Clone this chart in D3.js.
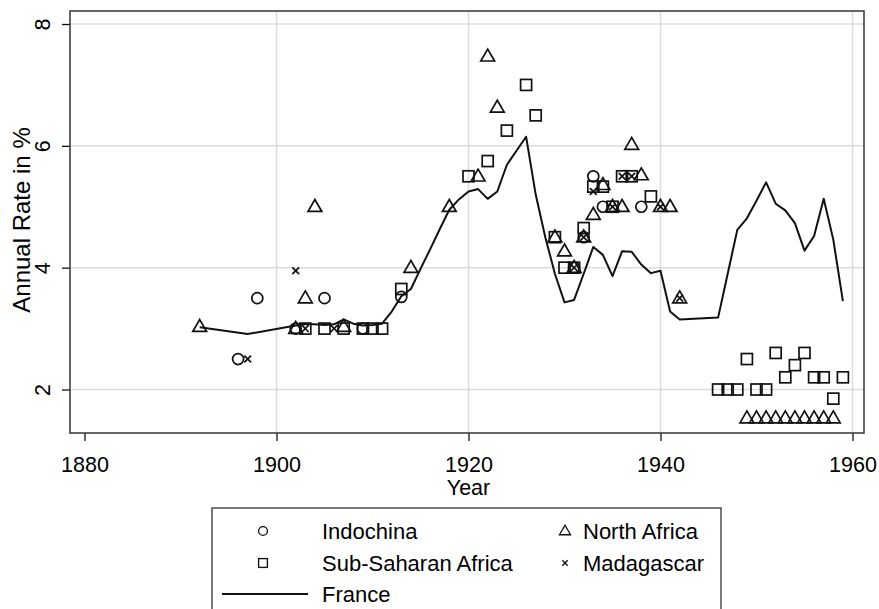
<!DOCTYPE html>
<html><head><meta charset="utf-8">
<script src="https://cdn.jsdelivr.net/npm/d3@7"></script>
<style>
body{margin:0;background:#fff;}
text{font-family:"Liberation Sans",Arial,sans-serif;fill:#000;}
</style>
</head><body>
<svg id="c" width="879" height="609"></svg>
<script>
// ---- data ----
const franceYears=[1892,1897,1902,1903,1904,1905,1906,1907,1908,1909,1910,1911,1912,1913,1914,1915,1916,1917,1918,1919,1920,1921,1922,1923,1924,1925,1926,1927,1928,1929,1930,1931,1932,1933,1934,1935,1936,1937,1938,1939,1940,1941,1942,1946,1947,1948,1949,1950,1951,1952,1953,1954,1955,1956,1957,1958,1959];
const franceRate=[3.02,2.91,3.05,3.07,3.07,3.06,3.07,3.15,3.08,3.05,3.06,3.08,3.28,3.53,3.65,3.98,4.3,4.63,4.95,5.12,5.25,5.29,5.13,5.25,5.69,5.92,6.15,5.2,4.5,3.9,3.43,3.47,3.9,4.34,4.21,3.86,4.27,4.26,4.05,3.91,3.95,3.28,3.15,3.18,3.9,4.62,4.81,5.1,5.4,5.05,4.94,4.73,4.28,4.52,5.13,4.46,3.45];

const indochinaYears=[1896,1898,1902,1905,1909,1913,1931,1932,1933,1934,1938];
const indochinaRate=[2.5,3.5,3.0,3.5,3.0,3.52,4.0,4.5,5.5,5.0,5.0];

const ssaYears=[1903,1905,1907,1909,1910,1911,1913,1920,1922,1924,1926,1927,1929,1930,1931,1932,1933,1934,1935,1936,1937,1939,1946,1947,1948,1949,1950,1951,1952,1953,1954,1955,1956,1957,1958,1959];
const ssaRate=[3.0,3.0,3.0,3.0,3.0,3.0,3.65,5.5,5.75,6.25,7.0,6.5,4.5,4.0,4.0,4.65,5.33,5.33,5.0,5.5,5.5,5.17,2.0,2.0,2.0,2.5,2.0,2.0,2.6,2.2,2.4,2.6,2.2,2.2,1.85,2.2];

const naYears=[1892,1902,1903,1904,1907,1914,1918,1921,1922,1923,1929,1930,1931,1932,1933,1934,1935,1936,1937,1938,1940,1941,1942,1949,1950,1951,1952,1953,1954,1955,1956,1957,1958];
const naRate=[3.03,3.0,3.5,5.0,3.03,4.0,5.0,5.5,7.47,6.63,4.5,4.27,4.0,4.5,4.87,5.36,5.0,5.0,6.02,5.52,5.0,5.0,3.5,1.53,1.53,1.53,1.53,1.53,1.53,1.53,1.53,1.53,1.53];

const madYears=[1897,1902,1903,1906,1931,1932,1933,1935,1936,1937,1940,1942];
const madRate=[2.5,3.95,3.0,3.0,4.0,4.5,5.25,5.0,5.5,5.5,5.0,3.5];

const xTicks=[1880,1900,1920,1940,1960];
const yTicks=[2,4,6,8];
const xTitle="Year", yTitle="Annual Rate in %";
const legendLabels=["Indochina","North Africa","Sub-Saharan Africa","Madagascar","France"];

// ---- layout ----
const W=879,H=609;
const frame={l:70,r:864,t:11,b:433};
const x=d3.scaleLinear().domain([1880,1960]).range([84.5,852.5]);
const y=d3.scaleLinear().domain([2,8]).range([389.5,24]);
const svg=d3.select("#c");
const INK="#111";
const FS=21.5;

svg.append("rect").attr("width",W).attr("height",H).attr("fill","#fff");

// gridlines
svg.append("g").selectAll("line").data(yTicks).join("line")
  .attr("x1",frame.l).attr("x2",frame.r).attr("y1",d=>y(d)).attr("y2",d=>y(d))
  .attr("stroke","#dcdcdc").attr("stroke-width",1.5);
svg.append("g").selectAll("line").data(xTicks.filter(d=>d>1880)).join("line")
  .attr("y1",frame.t).attr("y2",frame.b).attr("x1",d=>x(d)).attr("x2",d=>x(d))
  .attr("stroke","#dcdcdc").attr("stroke-width",1.5);

// axes
const gx=svg.append("g").attr("transform",`translate(0,${frame.b})`)
  .call(d3.axisBottom(x).tickValues(xTicks).tickFormat(d3.format("d")).tickSize(8).tickPadding(16));
gx.select(".domain").remove();
gx.selectAll("line").attr("stroke",INK).attr("stroke-width",1.3);
gx.selectAll("text").attr("font-size",FS).attr("font-family","Liberation Sans, Arial, sans-serif").attr("fill","#000");

const gy=svg.append("g").attr("transform",`translate(${frame.l},0)`)
  .call(d3.axisLeft(y).tickValues(yTicks).tickFormat(d3.format("d")).tickSize(8));
gy.select(".domain").remove();
gy.selectAll("line").attr("stroke",INK).attr("stroke-width",1.3);
gy.selectAll("text").attr("font-size",FS).attr("font-family","Liberation Sans, Arial, sans-serif").attr("fill","#000")
  .attr("x",null).attr("dy","0.36em").attr("text-anchor","middle")
  .attr("transform","translate(-28,0) rotate(-90)");

// frame
svg.append("rect").attr("x",frame.l).attr("y",frame.t).attr("width",frame.r-frame.l).attr("height",frame.b-frame.t)
  .attr("fill","none").attr("stroke","#333").attr("stroke-width",1.5);

// titles
svg.append("text").attr("x",(x(1880)+x(1960))/2).attr("y",495).attr("text-anchor","middle").attr("font-size",FS).text(xTitle);
svg.append("text").attr("transform",`translate(30,${(frame.t+frame.b)/2 - 2}) rotate(-90)`).attr("text-anchor","middle").attr("font-size",24).text(yTitle);

// France line
const franceData=franceYears.map((d,i)=>[d,franceRate[i]]);
svg.append("path").datum(franceData)
  .attr("d",d3.line().x(d=>x(d[0])).y(d=>y(d[1])))
  .attr("fill","none").attr("stroke",INK).attr("stroke-width",2).attr("stroke-linejoin","round");

// marker drawing
const SW=1.7;
function drawMarker(g,type){
  if(type==="circle"){
    g.append("circle").attr("r",5.5).attr("fill","none").attr("stroke",INK).attr("stroke-width",SW);
  }else if(type==="square"){
    g.append("rect").attr("x",-5.5).attr("y",-5.5).attr("width",11).attr("height",11).attr("fill","none").attr("stroke",INK).attr("stroke-width",SW);
  }else if(type==="triangle"){
    g.append("path").attr("d","M0,-7.2L6.9,4.7L-6.9,4.7Z").attr("fill","none").attr("stroke",INK).attr("stroke-width",SW).attr("stroke-linejoin","miter");
  }else if(type==="x"){
    g.append("path").attr("d","M-3.4,-3.4L3.4,3.4M3.4,-3.4L-3.4,3.4").attr("fill","none").attr("stroke",INK).attr("stroke-width",SW);
  }
}
function series(years,vals,type){
  const data=years.map((d,i)=>[d,vals[i]]);
  svg.append("g").selectAll("g").data(data).join("g")
    .attr("transform",d=>`translate(${x(d[0])},${y(d[1])})`)
    .each(function(){drawMarker(d3.select(this),type);});
}
series(ssaYears,ssaRate,"square");
series(indochinaYears,indochinaRate,"circle");
series(naYears,naRate,"triangle");
series(madYears,madRate,"x");

// legend
const lg=svg.append("g");
lg.append("rect").attr("x",212).attr("y",508).attr("width",509).attr("height",130)
  .attr("fill","#fff").attr("stroke","#333").attr("stroke-width",1.3);
const items=[
  {t:"circle",lbl:legendLabels[0],sx:263,tx:322,cy:531},
  {t:"triangle",lbl:legendLabels[1],sx:565,tx:583,cy:531},
  {t:"square",lbl:legendLabels[2],sx:263,tx:322,cy:563},
  {t:"x",lbl:legendLabels[3],sx:565,tx:583,cy:563},
  {t:"line",lbl:legendLabels[4],sx:263,tx:322,cy:594}
];
items.forEach(it=>{
  if(it.t==="line"){
    lg.append("line").attr("x1",222).attr("x2",308).attr("y1",it.cy).attr("y2",it.cy).attr("stroke",INK).attr("stroke-width",2);
  }else{
    const g=lg.append("g");
    drawMarker(g,it.t);
    g.attr("transform",`translate(${it.sx},${it.cy}) scale(0.8)`);
  }
  lg.append("text").attr("x",it.tx).attr("y",it.cy).attr("dy","0.36em").attr("font-size",22).text(it.lbl);
});
</script>
</body></html>
